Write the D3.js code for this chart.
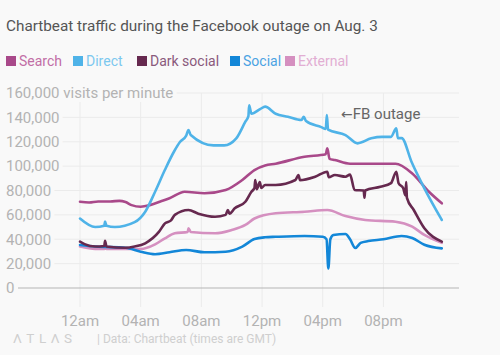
<!DOCTYPE html>
<html>
<head>
<meta charset="utf-8">
<script src="https://cdn.jsdelivr.net/npm/d3@7"></script>
<style>
  html, body { margin: 0; padding: 0; background: #f9f9f9; }
  svg { display: block; font-family: Roboto, "Noto Sans", sans-serif; }
</style>
</head>
<body>
<svg id="chart" width="500" height="355"></svg>
<script>
// ---- Data (hours after midnight GMT, visits per minute) ----
const seriesNames = ["Search", "Direct", "Dark social", "Social", "External"];

const searchHours = [0, 0.6, 1.2, 2, 2.6, 3, 3.4, 4, 4.6, 5.3, 5.9, 6.9, 8.2, 9.6, 10.7, 11.5, 12.2, 12.9, 14.8, 16.2, 16.3, 16.45, 16.8, 17.8, 18.8, 20.8, 21.9, 23, 23.85];
const searchValues = [70800, 70200, 71000, 71000, 71500, 70500, 68000, 66700, 68000, 71000, 73600, 79000, 77700, 80400, 88600, 96800, 100500, 102000, 107700, 109700, 114600, 106000, 105000, 102000, 102000, 102000, 94000, 79000, 69500];

const directHours = [0, 1, 1.6, 1.65, 1.75, 2.3, 3.6, 4.3, 4.95, 5.6, 6.2, 6.6, 7.0, 7.15, 7.3, 8.8, 9.5, 10.3, 10.9, 11.1, 11.15, 11.3, 11.9, 12.2, 12.9, 13.7, 14.6, 14.75, 14.9, 15.9, 16.2, 16.27, 16.35, 17.5, 18.3, 19.2, 19.9, 20.5, 20.85, 20.95, 21.2, 21.85, 22.7, 23.85];
const directValues = [57000, 50000, 51000, 54500, 51000, 50000, 54000, 62600, 79000, 97000, 112000, 120000, 125000, 129600, 125500, 117000, 117000, 122800, 136500, 141000, 150000, 143000, 147000, 148800, 143000, 140500, 137800, 140500, 137000, 132000, 130500, 142000, 130000, 125500, 118700, 122800, 124000, 124000, 131000, 123000, 123000, 103600, 81800, 55800];

const darkHours = [0, 0.3, 1, 1.6, 1.65, 1.75, 3, 3.6, 4.3, 5.2, 5.6, 6.0, 6.25, 7.15, 7.8, 8.9, 9.6, 9.75, 9.85, 10.2, 10.9, 11.3, 11.5, 11.55, 11.65, 11.85, 11.95, 12.2, 12.9, 14.2, 14.4, 14.5, 15.5, 16.3, 16.4, 16.8, 17.5, 17.8, 18.1, 18.7, 18.75, 18.8, 19.8, 20.5, 20.85, 21.0, 21.3, 21.45, 21.5, 21.55, 22.0, 22.7, 23.85];
const darkValues = [38000, 36000, 34000, 34500, 38800, 34000, 33000, 34000, 36700, 46000, 53000, 55500, 60000, 64000, 61000, 58500, 60000, 64000, 61000, 65400, 70800, 79000, 82000, 88600, 81000, 87000, 82000, 84500, 84500, 88600, 92700, 88500, 91300, 95400, 91000, 92700, 91300, 93000, 80400, 80000, 74000, 80000, 83000, 86000, 95400, 86000, 82000, 76000, 87000, 74000, 64000, 49000, 38000];

const socialHours = [0, 1, 3, 4, 4.95, 5.9, 7, 8.2, 9.6, 10.7, 11.5, 12.2, 12.9, 14.8, 16.0, 16.25, 16.37, 16.5, 16.7, 17.5, 17.8, 18.15, 18.5, 19, 20, 21.2, 21.9, 22.7, 23.85];
const socialValues = [35300, 34000, 33000, 29800, 27700, 29300, 31200, 29300, 29800, 34000, 40200, 41600, 42000, 42700, 42000, 40000, 16000, 40000, 43500, 44300, 40000, 32800, 37000, 38500, 40000, 42700, 41000, 35500, 32500];

const externalHours = [0, 1, 1.6, 1.65, 1.75, 3, 4, 4.95, 5.6, 6.25, 7.1, 7.15, 7.3, 8.9, 10, 10.9, 11.5, 12.9, 14.8, 16.3, 17.5, 18.8, 20.8, 21.9, 22.7, 23.85];
const externalValues = [34000, 32000, 32000, 33500, 32000, 32000, 32000, 35800, 40800, 44900, 46000, 49000, 46000, 44900, 47600, 51700, 57000, 61300, 62600, 64000, 59000, 55800, 54400, 50300, 43500, 37000];

const lineColors = ["#a9498a", "#4fb3e8", "#66294f", "#1387d8", "#d590c0"];
const legendTextColors = ["#c26ea6", "#7cc8ef", "#8a5a7c", "#4ba3e3", "#e2aed3"];

const xTickHours = [0, 4, 8, 12, 16, 20];
const xTickLabels = ["12am", "04am", "08am", "12pm", "04pm", "08pm"];
const yTickValues = [0, 20000, 40000, 60000, 80000, 100000, 120000, 140000, 160000];

// ---- Build ----
const seriesData = [
  [searchHours, searchValues],
  [directHours, directValues],
  [darkHours, darkValues],
  [socialHours, socialValues],
  [externalHours, externalValues]
].map(([h, v], i) => ({ name: seriesNames[i], color: lineColors[i], points: h.map((t, j) => ({ t, v: v[j] })) }));

const svg = d3.select("#chart");
const x = d3.scaleLinear().domain([0, 24]).range([80, 444.1]);
const y = d3.scaleLinear().domain([0, 160000]).range([288, 93]);
const gridLeft = 18, gridRight = 459;

// Title
svg.append("text").attr("x", 6).attr("y", 31)
  .attr("font-size", 15.3).attr("fill", "#555").text("Chartbeat traffic during the Facebook outage on Aug. 3");

// Legend
const legendX = [6, 73, 137, 230, 285];
seriesData.forEach((s, i) => {
  svg.append("rect").attr("x", legendX[i]).attr("y", 56).attr("width", 10).attr("height", 10).attr("fill", s.color);
  svg.append("text").attr("x", legendX[i] + 13).attr("y", 66).attr("font-size", 14)
    .attr("fill", legendTextColors[i]).text(s.name);
});

// Vertical grid
svg.append("g").selectAll("line").data(xTickHours).join("line")
  .attr("x1", d => x(d)).attr("x2", d => x(d))
  .attr("y1", y(160000)).attr("y2", 307)
  .attr("stroke", "#ebebeb").attr("stroke-width", 1);

// Horizontal grid
svg.append("g").selectAll("line").data(yTickValues.filter(d => d > 0)).join("line")
  .attr("x1", gridLeft).attr("x2", gridRight)
  .attr("y1", d => y(d)).attr("y2", d => y(d))
  .attr("stroke", "#ebebeb").attr("stroke-width", 1);

// Y labels (with background halo)
svg.append("g").selectAll("text").data(yTickValues).join("text")
  .attr("x", 6).attr("y", d => y(d)).attr("dy", "0.35em")
  .attr("font-size", 15).attr("fill", "#b3b3b3")
  .attr("stroke", "#f9f9f9").attr("stroke-width", 8).attr("paint-order", "stroke")
  .text(d => d === 160000 ? d3.format(",")(d) + " visits per minute" : d3.format(",")(d));

// Zero line
svg.append("line").attr("x1", gridLeft).attr("x2", gridRight).attr("y1", y(0)).attr("y2", y(0))
  .attr("stroke", "#b5b5b5").attr("stroke-width", 1);

// X labels
svg.append("g").selectAll("text").data(xTickHours).join("text")
  .attr("x", d => x(d)).attr("y", 326).attr("text-anchor", "middle")
  .attr("font-size", 15).attr("fill", "#b3b3b3")
  .text((d, i) => xTickLabels[i]);

// Lines
const line = d3.line().x(d => x(d.t)).y(d => y(d.v)).curve(d3.curveMonotoneX);
const drawOrder = [4, 3, 2, 0, 1];
svg.append("g").selectAll("path").data(drawOrder.map(i => seriesData[i])).join("path")
  .attr("d", d => line(d.points))
  .attr("fill", "none").attr("stroke", d => d.color)
  .attr("stroke-width", 2.6).attr("stroke-linejoin", "round").attr("stroke-linecap", "round");

// Annotation
const ann = svg.append("text").attr("x", 341).attr("y", 119).attr("font-size", 15).attr("fill", "#666");
ann.append("tspan").attr("font-family", "DejaVu Sans").attr("font-size", 14).text("←");
ann.append("tspan").text("FB outage");

// Footer
svg.append("text").attr("x", 13).attr("y", 343).attr("font-size", 13.5).attr("letter-spacing", 4.5)
  .attr("fill", "#cfcfcf").text("ΛTLΛS");
svg.append("text").attr("x", 97).attr("y", 343).attr("font-size", 12)
  .attr("fill", "#cfcfcf").text("| Data: Chartbeat (times are GMT)");
</script>
</body>
</html>
